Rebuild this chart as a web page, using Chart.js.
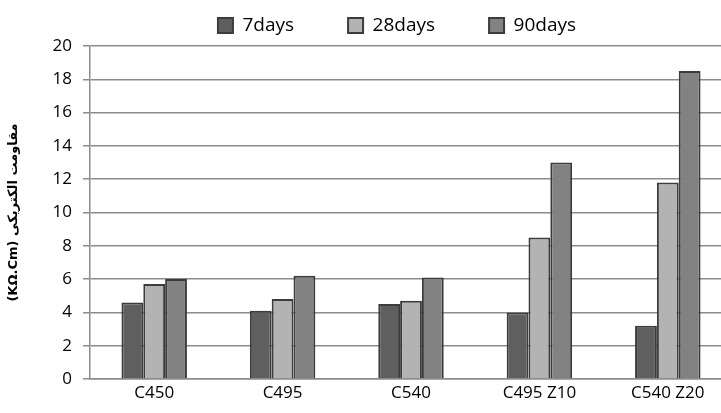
<!DOCTYPE html>
<html>
<head>
<meta charset="utf-8">
<script src="https://cdn.jsdelivr.net/npm/chart.js@4"></script>
<style>
  html, body { margin: 0; padding: 0; background: #fff; overflow: hidden; }
  canvas { display: block; }
</style>
</head>
<body>
<!-- the original picture is cut off on the right, so the canvas runs past the window -->
<canvas id="chart" width="732" height="413"></canvas>
<script>
// mix names and readings per curing age
const categories = ['C450', 'C495', 'C540', 'C495 Z10', 'C540 Z20'];
const seriesNames = ['7days', '28days', '90days'];
const days7 = [4.6, 4.1, 4.5, 4.0, 3.2];
const days28 = [5.7, 4.8, 4.7, 8.5, 11.8];
const days90 = [6.0, 6.2, 6.1, 13.0, 18.5];
const yTicks = [0, 2, 4, 6, 8, 10, 12, 14, 16, 18, 20];
const yTitle = '(KΩ.Cm) مقاومت الکتریکی';

const fills = ['#5f5f5f', '#b3b3b3', '#828282'];
const values = [days7, days28, days90];

// move the legend row where the original sits
const legendShift = {
    id: 'legendShift',
    afterLayout(chart) {
        const lg = chart.legend;
        lg.left += 31;
        lg.right += 31;
        lg.top = 16 - 54;
    }
};

const ctx = document.getElementById('chart').getContext('2d');

new Chart(ctx, {
    type: 'bar',
    data: {
        labels: categories,
        datasets: seriesNames.map((name, i) => ({
            label: name,
            data: values[i],
            backgroundColor: fills[i],
            borderColor: '#3c3c3c',
            borderWidth: 2,
            categoryPercentage: 0.51,
            barPercentage: 1
        }))
    },
    options: {
        responsive: false,
        animation: false,
        layout: { padding: 0 },
        plugins: {
            legend: {
                position: 'top',
                maxHeight: 46,
                labels: {
                    boxWidth: 15,
                    boxHeight: 15,
                    padding: 54,
                    color: '#000',
                    font: { family: 'Open Sans', size: 19 }
                }
            },
            tooltip: { enabled: false }
        },
        scales: {
            x: {
                grid: { display: false, drawTicks: false },
                border: { display: true, color: '#8c8c8c', width: 1.5 },
                ticks: {
                    color: '#000',
                    padding: 4,
                    font: { family: 'Open Sans', size: 17 },
                    maxRotation: 0
                },
                afterFit(scale) { scale.height = 34; }
            },
            y: {
                min: 0,
                max: 20,
                afterBuildTicks(scale) {
                    scale.ticks = yTicks.map(v => ({ value: v }));
                },
                grid: { color: '#8c8c8c', lineWidth: 1.5, tickLength: 7 },
                border: { display: true, color: '#8c8c8c', width: 1.5 },
                ticks: {
                    color: '#000',
                    padding: 11,
                    font: { family: 'Open Sans', size: 17 }
                },
                title: {
                    display: true,
                    text: yTitle,
                    color: '#000',
                    padding: { top: 6, bottom: 0 },
                    font: { family: 'DejaVu Sans', size: 13, weight: 'bold' }
                },
                afterFit(scale) { scale.width = 90; }
            }
        }
    },
    plugins: [legendShift]
});
</script>
</body>
</html>
